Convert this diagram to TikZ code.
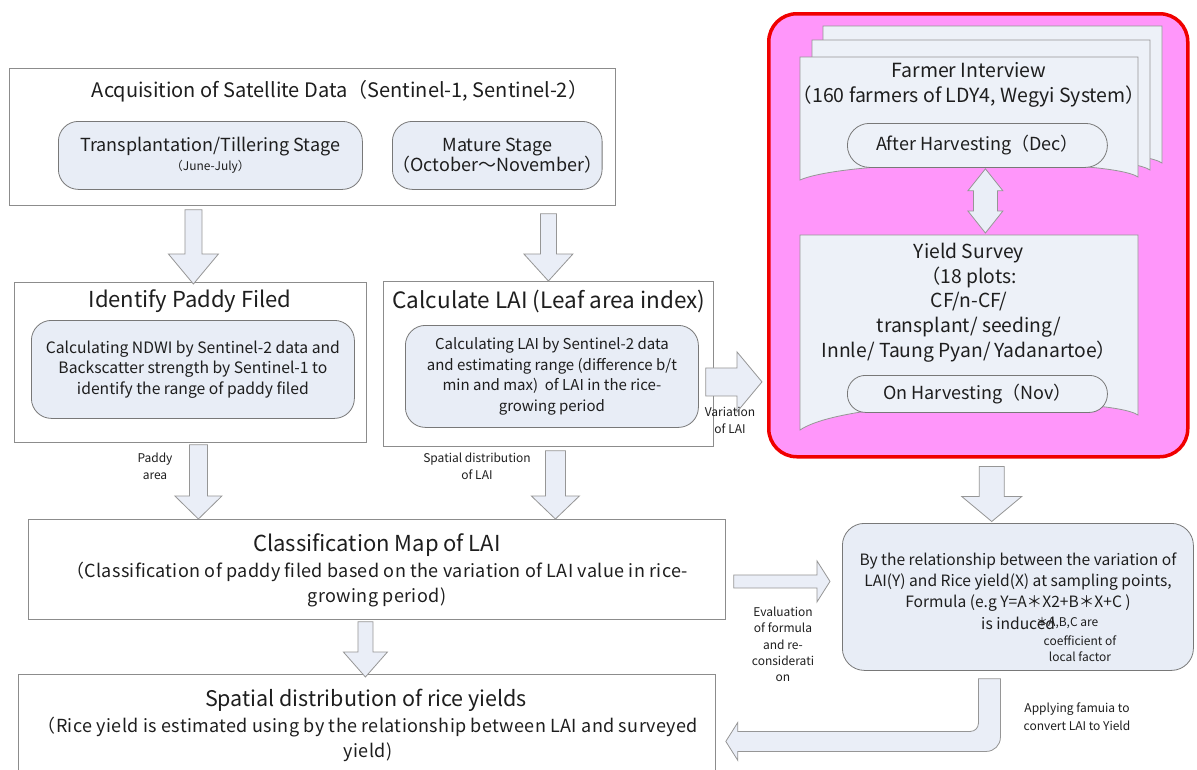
\documentclass[tikz,border=0pt]{standalone}
\usepackage{fontspec}
\setmainfont{Noto Sans CJK JP}
\usetikzlibrary{calc}
\definecolor{boxline}{RGB}{140,140,140}
\definecolor{innerline}{RGB}{120,120,120}
\definecolor{innerfill}{RGB}{232,237,246}
\definecolor{arrfill}{RGB}{234,238,247}
\definecolor{arrline}{RGB}{150,150,150}
\definecolor{pinkfill}{RGB}{255,150,250}
\definecolor{redline}{RGB}{240,0,0}
\definecolor{docfill}{RGB}{237,241,248}
\definecolor{txtcol}{RGB}{30,30,30}
\newcommand\fsz[2]{\fontsize{#1}{#2}\selectfont}
% block arrows: #1 shaft half width, #2 head half width, #3 head length, #4 start, #5 tip
\newcommand\BlkDown[5]{\draw[blk] let \p1=(#4), \p2=(#5) in
  (\x1-#1,\y1) -- (\x1+#1,\y1) -- (\x1+#1,\y2+#3) -- (\x1+#2,\y2+#3) -- (\x1,\y2)
  -- (\x1-#2,\y2+#3) -- (\x1-#1,\y2+#3) -- cycle;}
\newcommand\BlkRight[5]{\draw[blk] let \p1=(#4), \p2=(#5) in
  (\x1,\y1+#1) -- (\x2-#3,\y1+#1) -- (\x2-#3,\y1+#2) -- (\x2,\y1) -- (\x2-#3,\y1-#2)
  -- (\x2-#3,\y1-#1) -- (\x1,\y1-#1) -- cycle;}
\newcommand\BlkBoth[5]{\draw[blk] let \p1=(#4), \p2=(#5) in
  (\x1,\y1) -- (\x1+#2,\y1-#3) -- (\x1+#1,\y1-#3) -- (\x1+#1,\y2+#3) -- (\x1+#2,\y2+#3)
  -- (\x1,\y2) -- (\x1-#2,\y2+#3) -- (\x1-#1,\y2+#3) -- (\x1-#1,\y1-#3) -- (\x1-#2,\y1-#3) -- cycle;}
\newcommand\BlkBend[2]{\draw[blk] let \p1=(#1), \p2=(#2) in
  (\x1-11pt,\y1) -- (\x1-11pt,\y2+18pt) arc[start angle=0,end angle=-90,radius=8pt]
  -- (\x2+12pt,\y2+10pt) -- (\x2+12pt,\y2+19pt) -- (\x2,\y2) -- (\x2+12pt,\y2-19pt)
  -- (\x2+12pt,\y2-10pt) -- (\x1-3pt,\y2-10pt) arc[start angle=-90,end angle=0,radius=14pt]
  -- (\x1+11pt,\y1) -- cycle;}
\tikzset{
  plainbox/.style={draw=boxline, fill=white, line width=0.8pt, inner sep=0pt, anchor=north west},
  innerbox/.style={draw=innerline, fill=innerfill, line width=0.8pt, rounded corners=20pt,
    inner sep=0pt, anchor=north west, align=center, text=txtcol},
  termbox/.style={draw=innerline, fill=docfill, line width=0.8pt, inner sep=0pt,
    anchor=north west, align=center, text=txtcol, font=\fsz{18}{22}},
  docshape/.style={draw=arrline, fill=docfill, line width=0.8pt},
  ghost/.style={inner sep=0pt, anchor=north west},
  txt/.style={inner sep=0pt, align=center, text=txtcol},
  small/.style={txt, font=\fsz{12}{17}},
  blk/.style={draw=arrline, fill=arrfill, line width=0.8pt, line join=miter},
}
\begin{document}
\begin{tikzpicture}[x=1pt,y=-1pt]
\useasboundingbox (0,0) rectangle (1197,769);
\fill[white] (0,0) rectangle (1197,769);

% ---------- top box ----------
\node[plainbox, minimum width=606pt, minimum height=137pt] (acq) at (9,68) {};
\node[txt, font=\fsz{20}{24}] (acqt) at (340,91) {Acquisition of Satellite Data（Sentinel-1, Sentinel-2）};
\node[innerbox, minimum width=304pt, minimum height=68pt, font=\fsz{18}{19}] (stage1) at (58,121)
  {Transplantation/Tillering Stage\\{\fsz{12}{14}（June-July）}};
\node[innerbox, minimum width=208pt, minimum height=68pt, font=\fsz{18}{20}] (stage2) at (392,121)
  {Mature Stage\\（October～November）};

% ---------- identify / calculate ----------
\node[plainbox, minimum width=352pt, minimum height=160pt] (ident) at (14,282) {};
\node[txt, font=\fsz{22}{24}] (identt) at (190,301) {Identify Paddy Filed};
\node[innerbox, minimum width=323pt, minimum height=98pt, font=\fsz{15.7}{20.5}] (identin) at (31,320)
  {Calculating NDWI by Sentinel-2 data and\\Backscatter strength by Sentinel-1 to\\identify the range of paddy filed};

\node[plainbox, minimum width=330pt, minimum height=165pt] (calc) at (383,281) {};
\node[txt, font=\fsz{22.5}{24}] (calct) at (549,301) {Calculate LAI (Leaf area index)};
\node[innerbox, minimum width=293pt, minimum height=102pt, font=\fsz{15}{20.7}] (calcin) at (405,325)
  {Calculating LAI by Sentinel-2 data\\and estimating range (difference b/t\\min and max)\ \ of LAI in the rice-\\growing period};

% ---------- field survey (pink) ----------
\node[ghost, draw=redline, fill=pinkfill, line width=3.5pt, rounded corners=28pt,
  minimum width=419pt, minimum height=443pt] (field) at (767,12) {};
\draw[docshape] (823,26) -- (1162,26) -- (1162,163) .. controls (1134,144) and (873,144) .. (823,166) -- cycle;
\draw[docshape] (812,40) -- (1150,40) -- (1150,170) .. controls (1122,151) and (862,151) .. (812,173) -- cycle;
\draw[docshape] (800,57) -- (1138,57) -- (1138,177) .. controls (1110,158) and (850,158) .. (800,180) -- cycle;
\node[ghost, minimum width=338pt, minimum height=120pt] (farmer) at (800,57) {};
\node[txt, font=\fsz{19.5}{25}] (farmert) at (969,84.5) {Farmer Interview\\（160 farmers of LDY4, Wegyi System）};
\node[termbox, rounded corners=22pt, minimum width=260pt, minimum height=44pt] (afterh) at (847,123)
  {After Harvesting（Dec）};

\draw[docshape] (800,235) -- (1138,235) -- (1138,415) .. controls (1110,396) and (850,396) .. (800,430) -- cycle;
\node[ghost, minimum width=338pt, minimum height=180pt] (yield) at (800,235) {};
\node[txt, font=\fsz{19.3}{24.75}] (yieldt) at (969,302.5)
  {Yield Survey\\（18 plots:\\CF/n-CF/\\transplant/ seeding/\\Innle/ Taung Pyan/ Yadanartoe）};
\node[termbox, rounded corners=18pt, minimum width=260pt, minimum height=37pt] (onh) at (847,375)
  {On Harvesting（Nov）};

\coordinate (dtop) at ($(afterh.south)+(8,1)$);
\coordinate (dbot) at ($(dtop |- yield.north)+(0,-2)$);
\BlkBoth{12pt}{17.5pt}{22pt}{dtop}{dbot}

% ---------- formula ----------
\node[innerbox, rounded corners=22pt, minimum width=351pt, minimum height=147pt] (formula) at (842,523) {};
\node[txt, font=\fsz{15.6}{21}] (formt) at (1018,582)
  {By the relationship between the variation of\\LAI(Y) and Rice yield(X) at sampling points,\\Formula (e.g Y=A＊X2+B＊X+C )};
\node[txt, anchor=west, font=\fsz{15.6}{18}] (induced) at (981,623) {is induced};
\node[txt, anchor=west, font=\fsz{12}{16}] (coefa) at (1036,623) {＊A,B,C are};
\node[txt, font=\fsz{12}{16}] (coefb) at (1080,649) {coefficient of\\local factor};

% ---------- classification / spatial ----------
\node[plainbox, minimum width=697pt, minimum height=100pt] (classmap) at (28,519) {};
\node[txt, font=\fsz{22}{24}] (classt) at (377,545) {Classification Map of LAI};
\node[txt, font={\fsz{18}{25}\addfontfeatures{LetterSpace=2}}] (classb) at (377,584.5)
  {（Classification of paddy filed based on the variation of LAI value in rice-\\growing period)};

\node[plainbox, minimum width=697pt, minimum height=101pt] (spatial) at (18,674) {};
\node[txt, font=\fsz{21.5}{24}] (spatt) at (366,700) {Spatial distribution of rice yields};
\node[txt, font={\fsz{18}{25}\addfontfeatures{LetterSpace=2}}] (spatb) at (368,739.5)
  {（Rice yield is estimated using by the relationship between LAI and surveyed\\yield)};

% ---------- arrows ----------
\BlkDown{8.5pt}{25pt}{30pt}{$(acq.south -| ident.north)+(3,4)$}{$(ident.north)+(3,2)$}
\BlkDown{8pt}{24.5pt}{27pt}{$(acq.south -| calc.north)+(0,8)$}{calc.north}
\BlkRight{14pt}{30pt}{25pt}{$(calc.east)+(-8,18)$}{$(calc.east -| field.west)+(-5,18)$}
\BlkDown{12.5pt}{30pt}{25pt}{$(field.south)+(13.5,8)$}{$(field.south -| formula.north)+(-27.5,63)$}
\BlkRight{6.5pt}{20.5pt}{13pt}{$(classmap.east)+(8,12)$}{$(classmap.east -| formula.west)+(-12,12)$}
\BlkDown{9pt}{23.5pt}{23pt}{$(ident.south)+(8,2)$}{$(ident.south |- classmap.north)+(8,0)$}
\BlkDown{10pt}{24pt}{23pt}{$(calc.south)+(7,4)$}{$(calc.south |- classmap.north)+(7,0)$}
\BlkDown{7.5pt}{22pt}{25pt}{$(classmap.south)+(-11.5,2)$}{$(classmap.south |- spatial.north)+(-11.5,3)$}
\coordinate (applytop) at ($(formula.south)+(-28.5,8)$);
\coordinate (applytip) at ($(spatial.east)+(10,16.5)$);
\BlkBend{applytop}{applytip}

% ---------- small labels ----------
\node[small] (lpaddy) at (155,466.5) {Paddy\\area};
\node[small] (lsd) at (477,466) {Spatial distribution\\of LAI};
\node[small] (lvar) at (730,420) {Variation\\of LAI};
\node[small, font=\fsz{12}{16.3}] (leval) at (783,644.5) {Evaluation\\of formula\\and re-\\considerati\\on};
\node[small, font=\fsz{12}{18}] (lapply) at (1077,717) {Applying famuia to\\convert LAI to Yield};
\end{tikzpicture}
\end{document}
